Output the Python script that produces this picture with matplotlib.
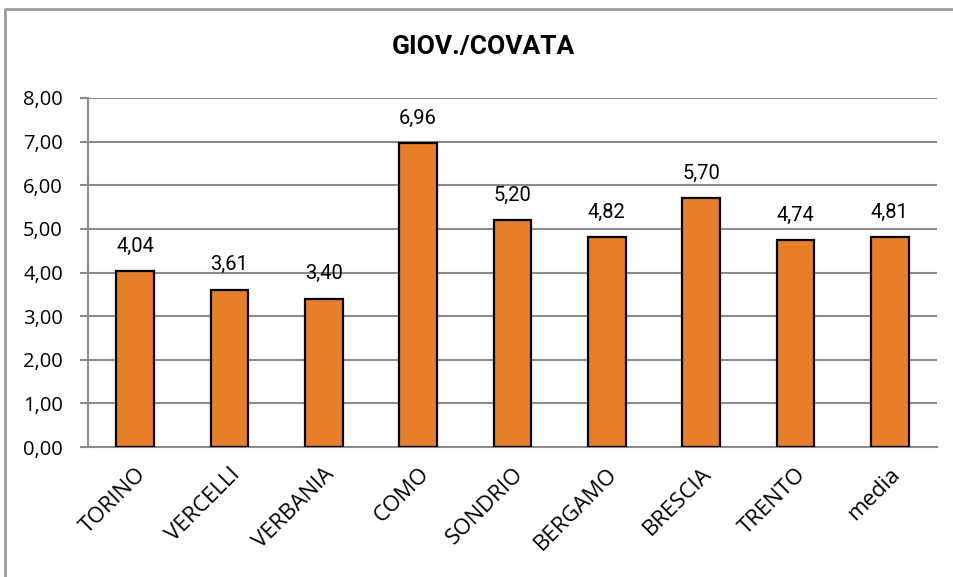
import matplotlib
matplotlib.use("Agg")
import matplotlib.pyplot as plt
from matplotlib.lines import Line2D
from matplotlib.ticker import FuncFormatter

categories = ["TORINO", "VERCELLI", "VERBANIA", "COMO", "SONDRIO",
              "BERGAMO", "BRESCIA", "TRENTO", "media"]
values = [4.04, 3.61, 3.40, 6.96, 5.20, 4.82, 5.70, 4.74, 4.81]
title = "GIOV./COVATA"

narrow = "Roboto"
body = "Open Sans"

W, H, DPI = 954, 577, 100
fig = plt.figure(figsize=(W / DPI, H / DPI), dpi=DPI)

# outer chart frame: only the left and top edges fall inside the image
fx, fy = 5 / W, 1 - 9 / H
fig.lines.append(Line2D([fx, fx, 1.0], [0.0, fy, fy], transform=fig.transFigure,
                        color="#9a9a9a", linewidth=2.0))

ax = fig.add_axes([88 / W, 1 - 447 / H, (937 - 88) / W, (447 - 98) / H])

x = range(len(categories))
ax.bar(x, values, width=0.40, color="#E67E2A", edgecolor="black",
       linewidth=1.6, zorder=3)

for xi, v in zip(x, values):
    ax.annotate(f"{v:.2f}".replace(".", ","), (xi, v), xytext=(0, 11),
                textcoords="offset points", ha="center", va="bottom",
                fontsize=14.5, family=narrow, color="black")

ax.set_ylim(0, 8)
ax.set_xlim(-0.5, len(categories) - 0.5)
ax.set_yticks(range(0, 9))
ax.grid(axis="y", color="#8c8c8c", linewidth=1.5, zorder=0)
ax.set_axisbelow(True)

for s in ["top", "right"]:
    ax.spines[s].set_visible(False)
ax.spines["left"].set_color("#8c8c8c")
ax.spines["left"].set_linewidth(1.5)
ax.spines["bottom"].set_color("#8c8c8c")
ax.spines["bottom"].set_linewidth(1.5)

ax.tick_params(axis="y", length=6, width=1.5, color="#8c8c8c", pad=12)
ax.set_yticklabels([f"{v:.2f}".replace(".", ",") for v in range(0, 9)],
                   fontsize=14.5, family=body)

ax.set_xticks(list(x))
ax.set_xticklabels(categories, rotation=45, ha="right",
                   rotation_mode="anchor", fontsize=16, family=body)
ax.tick_params(axis="x", length=0, pad=12)

fig.text(483 / W, 1 - 47 / H, title, ha="center", va="center",
         fontsize=19, fontweight="bold", family=narrow)

fig.savefig("out.png", dpi=DPI)
